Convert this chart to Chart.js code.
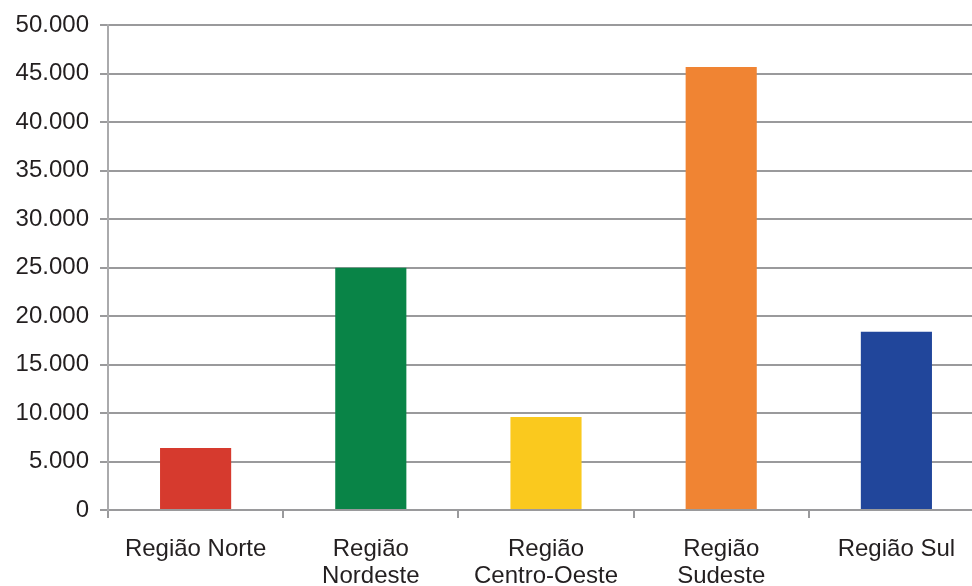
<!DOCTYPE html>
<html>
<head>
<meta charset="utf-8">
<script src="https://cdn.jsdelivr.net/npm/chart.js@4"></script>
<style>
  html, body { margin: 0; padding: 0; background: #fff; overflow: hidden; }
  #wrap { width: 984px; height: 586px; }
</style>
</head>
<body>
<div id="wrap"><canvas id="barChart" width="984" height="586"></canvas></div>
<script>
// Data
var regioes = [["Região Norte"], ["Região", "Nordeste"], ["Região", "Centro-Oeste"], ["Região", "Sudeste"], ["Região Sul"]];
var valores = [6400, 25000, 9600, 45700, 18400];
var cores = ["#D63A2E", "#098447", "#FAC91E", "#F08433", "#21469B"];
var yMax = 50000;
var yStep = 5000;

// 50000 -> "50.000"
function formatPt(v) {
  if (v === 0) return "0";
  return String(v).replace(/\B(?=(\d{3})+(?!\d))/g, ".");
}

var grade = "#9a9a9c";
var fonte = "'Liberation Sans', Arial, sans-serif";

new Chart(document.getElementById('barChart'), {
  type: 'bar',
  data: {
    labels: regioes,
    datasets: [{
      data: valores,
      backgroundColor: cores,
      barPercentage: 0.406,
      categoryPercentage: 1.0
    }]
  },
  options: {
    responsive: false,
    animation: false,
    layout: { padding: { top: 15, right: 0, left: 0, bottom: 0 } },
    plugins: { legend: { display: false }, tooltip: { enabled: false } },
    scales: {
      x: {
        grid: { drawOnChartArea: false, drawTicks: true, tickLength: 8, color: grade, lineWidth: 2, offset: true },
        border: { color: grade, width: 2 },
        ticks: {
          color: "#231f20",
          font: { family: fonte, size: 24, lineHeight: 1.13 },
          padding: 18,
          maxRotation: 0,
          autoSkip: false
        },
        afterFit: function (scale) { scale.height = 76; }
      },
      y: {
        min: 0,
        max: yMax,
        grid: { color: grade, lineWidth: 2, tickLength: 8 },
        border: { color: "#aaaaac", width: 2 },
        ticks: {
          stepSize: yStep,
          color: "#231f20",
          font: { family: fonte, size: 24 },
          padding: 11,
          callback: function (v) { return formatPt(v); }
        },
        afterFit: function (scale) { scale.width = 108; }
      }
    }
  }
});
</script>
</body>
</html>
